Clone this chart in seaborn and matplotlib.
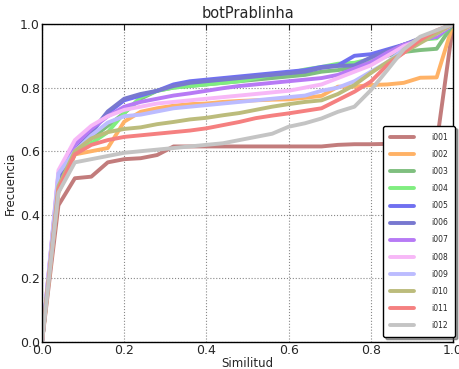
# Recreate the "botPrablinha" similarity/frequency curves with seaborn

import seaborn as sns
import matplotlib.pyplot as plt
import pandas as pd

similitud = [0.00, 0.04, 0.08, 0.12, 0.16, 0.20, 0.24, 0.28, 0.32, 0.36, 0.40, 0.44, 0.48,
             0.52, 0.56, 0.60, 0.64, 0.68, 0.72, 0.76, 0.80, 0.84, 0.88, 0.92, 0.96, 1.00]

i001 = [0, 0.43, 0.515, 0.52, 0.565, 0.575, 0.578, 0.588, 0.615, 0.615, 0.615, 0.615, 0.615,
        0.615, 0.615, 0.615, 0.615, 0.615, 0.62, 0.622, 0.622, 0.623, 0.623, 0.624, 0.625, 1.0]
i002 = [0, 0.47, 0.59, 0.60, 0.61, 0.693, 0.724, 0.735, 0.743, 0.748, 0.75, 0.755, 0.758,
        0.76, 0.762, 0.763, 0.768, 0.774, 0.803, 0.803, 0.808, 0.81, 0.815, 0.831, 0.832, 1.0]
i003 = [0, 0.50, 0.60, 0.64, 0.68, 0.72, 0.765, 0.79, 0.80, 0.805, 0.81, 0.815, 0.82,
        0.825, 0.83, 0.835, 0.84, 0.85, 0.855, 0.865, 0.88, 0.90, 0.912, 0.918, 0.922, 1.0]
i004 = [0, 0.50, 0.59, 0.625, 0.66, 0.72, 0.77, 0.79, 0.80, 0.805, 0.81, 0.815, 0.82,
        0.83, 0.84, 0.845, 0.857, 0.865, 0.875, 0.878, 0.89, 0.91, 0.935, 0.95, 0.955, 1.0]
i005 = [0, 0.52, 0.60, 0.66, 0.72, 0.76, 0.775, 0.79, 0.81, 0.82, 0.825, 0.83, 0.835,
        0.84, 0.845, 0.85, 0.855, 0.865, 0.87, 0.90, 0.905, 0.92, 0.935, 0.95, 0.96, 1.0]
i006 = [0, 0.50, 0.60, 0.66, 0.725, 0.765, 0.78, 0.79, 0.805, 0.815, 0.82, 0.825, 0.83,
        0.835, 0.84, 0.845, 0.85, 0.862, 0.868, 0.87, 0.895, 0.915, 0.935, 0.955, 0.968, 1.0]
i007 = [0, 0.53, 0.62, 0.67, 0.71, 0.74, 0.755, 0.765, 0.775, 0.782, 0.79, 0.798, 0.805,
        0.81, 0.815, 0.82, 0.825, 0.83, 0.84, 0.86, 0.88, 0.91, 0.935, 0.95, 0.96, 1.0]
i008 = [0, 0.54, 0.635, 0.68, 0.71, 0.73, 0.74, 0.75, 0.755, 0.76, 0.765, 0.77, 0.775,
        0.78, 0.785, 0.79, 0.80, 0.81, 0.83, 0.85, 0.87, 0.90, 0.93, 0.95, 0.97, 1.0]
i009 = [0, 0.53, 0.60, 0.65, 0.69, 0.71, 0.715, 0.725, 0.735, 0.74, 0.745, 0.75, 0.755,
        0.76, 0.765, 0.77, 0.775, 0.79, 0.80, 0.82, 0.85, 0.88, 0.92, 0.95, 0.97, 1.0]
i010 = [0, 0.49, 0.60, 0.64, 0.66, 0.67, 0.675, 0.685, 0.692, 0.70, 0.705, 0.713, 0.72,
        0.73, 0.74, 0.748, 0.755, 0.76, 0.78, 0.808, 0.846, 0.88, 0.91, 0.94, 0.97, 1.0]
i011 = [0, 0.48, 0.59, 0.62, 0.635, 0.645, 0.65, 0.655, 0.66, 0.665, 0.672, 0.682, 0.692,
        0.704, 0.712, 0.719, 0.727, 0.735, 0.761, 0.787, 0.819, 0.871, 0.91, 0.95, 0.98, 1.0]
i012 = [0, 0.47, 0.565, 0.575, 0.585, 0.595, 0.60, 0.605, 0.61, 0.615, 0.62, 0.625, 0.635,
        0.645, 0.655, 0.677, 0.688, 0.703, 0.724, 0.74, 0.792, 0.855, 0.92, 0.96, 0.98, 1.0]

series = {'i001': i001, 'i002': i002, 'i003': i003, 'i004': i004, 'i005': i005, 'i006': i006,
          'i007': i007, 'i008': i008, 'i009': i009, 'i010': i010, 'i011': i011, 'i012': i012}
colores = ['#c27c7c', '#ffb266', '#7fbf7f', '#80ee80', '#7070f0', '#7878d0',
           '#b77af5', '#f7b8f7', '#bcbcff', '#bcbc7c', '#f58080', '#c4c4c4']

rows = []
for name, vals in series.items():
    for s, f in zip(similitud, vals):
        rows.append({'Similitud': s, 'Frecuencia': f, 'serie': name})
df = pd.DataFrame(rows)

sns.set_style("white")
plt.rcParams['font.family'] = ['DejaVu Sans']

fig = plt.figure(figsize=(4.6, 3.69), dpi=100)
ax = fig.add_axes([0.0913, 0.073, 0.8937, 0.862])
sns.lineplot(data=df, x='Similitud', y='Frecuencia', hue='serie', palette=colores,
             linewidth=2.8, estimator=None, sort=False, ax=ax, legend=True)

ax.set_xlim(0, 1)
ax.set_ylim(0, 1)
ax.set_xticks([0, 0.2, 0.4, 0.6, 0.8, 1.0])
ax.set_yticks([0, 0.2, 0.4, 0.6, 0.8, 1.0])
ax.grid(True, linestyle=':', color='#888888', linewidth=0.8)
ax.tick_params(direction='in', length=4, labelsize=9, top=True, right=True, pad=1.5)
for sp in ax.spines.values():
    sp.set_color('black')
    sp.set_linewidth(1)
ax.set_title('botPrablinha', fontsize=10.5, pad=4)
ax.set_xlabel('Similitud', fontsize=8.5, labelpad=0)
ax.set_ylabel('Frecuencia', fontsize=8.5, labelpad=2)

handles, labels = ax.get_legend_handles_labels()
leg = ax.legend(handles, labels, loc='upper right', bbox_to_anchor=(455 / 460, 1 - 126 / 369),
                bbox_transform=fig.transFigure, fontsize=5.5, labelspacing=1.06,
                handlelength=3.2, handletextpad=2.2, borderpad=0.9, fancybox=True,
                shadow=True, frameon=True, borderaxespad=0)
leg.get_frame().set_edgecolor('black')
leg.get_frame().set_linewidth(1)
leg.set_zorder(10)

plt.savefig('out.png', dpi=100)
